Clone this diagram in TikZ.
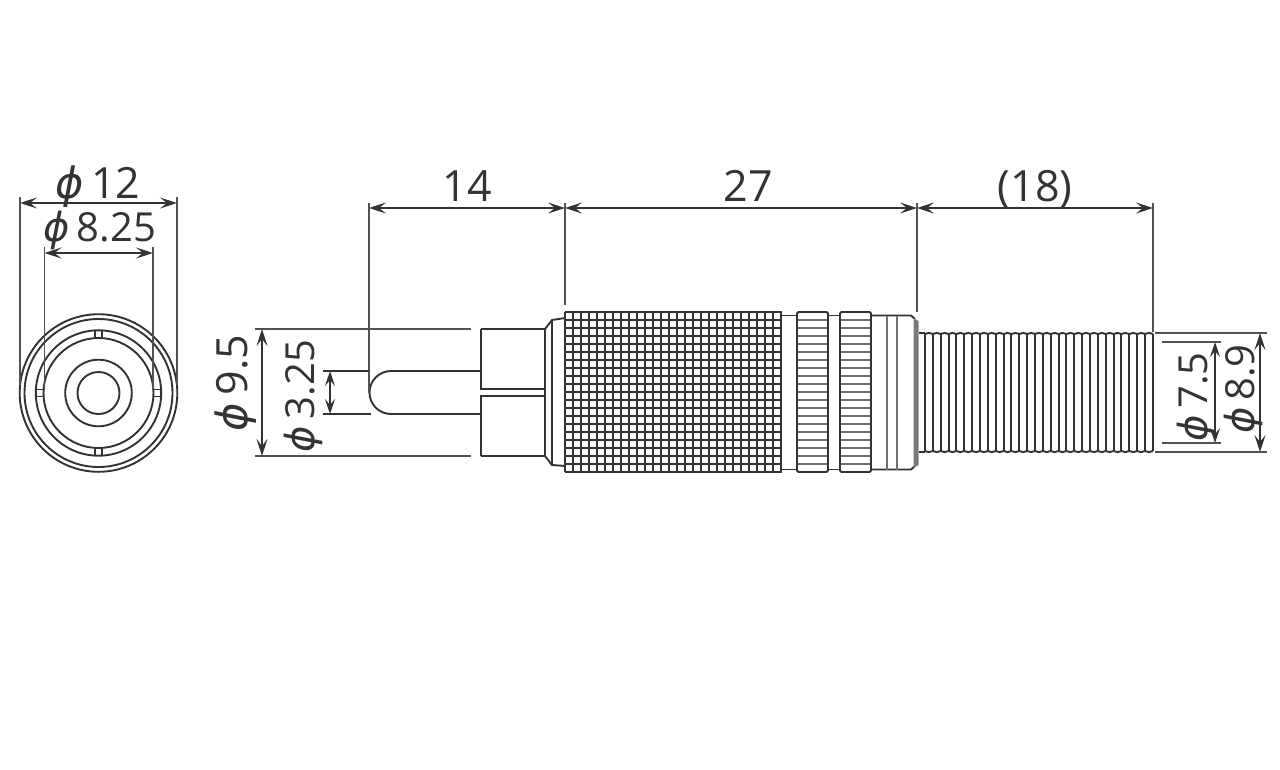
\documentclass[tikz,border=0pt]{standalone}
\usepackage{fontspec}
\usetikzlibrary{arrows.meta}
\setmainfont{Open Sans}
\newfontfamily\phifont{DejaVu Sans}
\newcommand{\phisym}{{\phifont\itshape\symbol{"03D5}}}
\definecolor{ink}{gray}{0.2}
\tikzset{
  part/.style={draw=ink,line width=1.9pt},
  knurl/.style={draw=ink,line width=2.6pt},
  thinpart/.style={draw=ink,line width=1.5pt},
  extline/.style={draw=ink!85,line width=1.9pt},
  dimline/.style={draw=ink,line width=1.8pt,{Stealth[length=17pt,width=11pt,inset=7pt]}-{Stealth[length=17pt,width=11pt,inset=7pt]}},
  smalldim/.style={draw=ink,line width=1.8pt,{Stealth[length=15pt,width=10pt,inset=6pt]}-{Stealth[length=15pt,width=10pt,inset=6pt]}},
  dimtext/.style={text=ink,font=\fontsize{43}{43}\selectfont,inner sep=0pt,text height=30pt,text depth=0pt},
  smalltext/.style={text=ink,font=\fontsize{40}{40}\selectfont,inner sep=0pt,text height=28pt,text depth=0pt},
}
\begin{document}
\begin{tikzpicture}[x=1pt,y=-1pt]
\useasboundingbox (0,0) rectangle (1280,769);
% ---------- front view
\coordinate (fc) at (98.5,393);
\foreach \r in {78.8,74,62.7,55,33.3,21}{\draw[part] (fc) circle[radius=\r];}
\foreach \a in {0,90,180,270}{
  \begin{scope}[shift={(fc)},rotate=\a]
    \draw[thinpart] (55,-3.5) -- (62.7,-3.5) (55,3.5) -- (62.7,3.5);
  \end{scope}}
% front dimensions
\coordinate (a1) at (20,203); \coordinate (a2) at (177,203);
\coordinate (a1e) at (20,197); \coordinate (a1f) at (20,385);
\coordinate (a2e) at (177,197); \coordinate (a2f) at (177,385);
\draw[extline] (a1e) -- (a1f); \draw[extline] (a2e) -- (a2f);
\draw[dimline] (a1) -- (a2);
\coordinate (b1) at (44.5,253); \coordinate (b2) at (153,253);
\coordinate (b1e) at (44.5,247); \coordinate (b1f) at (44.5,390);
\coordinate (b2e) at (153,247); \coordinate (b2f) at (153,390);
\draw[extline] (b1e) -- (b1f); \draw[extline] (b2e) -- (b2f);
\draw[dimline] (b1) -- (b2);
\node[dimtext] (t12) at (98,183) {\phisym\,12};
\node[smalltext] (t825) at (100,227) {\phisym\,8.25};
% ---------- pin and sleeve
\draw[part] (481,329) -- (481,389) -- (545,389);
\draw[part] (481,456) -- (481,396) -- (545,396);
\draw[part] (481,329) -- (545,329) -- (552,320) -- (565,318);
\draw[part] (481,456) -- (545,456) -- (552,465) -- (565,466);
\draw[part] (545,329) -- (545,456);
\draw[part] (552,320) -- (552,465);
\draw[part] (481,371) -- (391,371) arc[start angle=-90,end angle=-270,radius=21.5] -- (481,414);
% ---------- knurled grip
\foreach \k in {0,...,27}{\draw[knurl] ({565+\k*8},312) -- ({565+\k*8},472);}
\foreach \k in {0,...,20}{\draw[knurl] (565,{312+\k*8}) -- (782,{312+\k*8});}
\draw[part] (782,315.5) -- (797,315.5) (782,469.5) -- (797,469.5);
\draw[part] (828,315.5) -- (840,315.5) (828,469.5) -- (840,469.5);
% ---------- ribbed bands
\foreach \xa/\xb in {797/828,840/871}{
  \foreach \k in {1,...,19}{\draw[draw=ink!70,line width=2.6pt] (\xa,{312+\k*8}) -- (\xb,{312+\k*8});}
  \draw[part,rounded corners=1.5pt] (\xa,312) rectangle (\xb,472);
}
% ---------- rear collar
\draw[part] (871,315.5) -- (911,315.5) -- (915,319);
\draw[part] (871,469.5) -- (911,469.5) -- (915,466);
\draw[draw=ink!70,line width=2.6pt] (887,315.5) -- (887,469.5) (897,315.5) -- (897,469.5);
\fill[ink!65] (913.5,318) -- (918.5,321) -- (918.5,465) -- (913.5,468) -- cycle;
% ---------- threaded tail
\draw[part] (918.5,333) -- (925,333);
\draw[part] (918.5,452) -- (925,452);
\foreach \k in {0,...,29}{\draw[part] ({925+\k*7.857},334) -- ({925+\k*7.857},451);}
\foreach \k in {0,...,28}{
  \draw[part] ({925+\k*7.857},334) .. controls ({927+\k*7.857},332.5) and ({930.8+\k*7.857},332.5) .. ({932.857+\k*7.857},334);
  \draw[part] ({925+\k*7.857},451) .. controls ({927+\k*7.857},452.5) and ({930.8+\k*7.857},452.5) .. ({932.857+\k*7.857},451);
}
% ---------- length dimensions
\coordinate (x0t) at (369,203); \coordinate (x0b) at (369,393);
\coordinate (x1t) at (565,203); \coordinate (x1b) at (565,305);
\coordinate (x2t) at (917,203); \coordinate (x2b) at (917,312);
\coordinate (x3t) at (1153,203); \coordinate (x3b) at (1153,332);
\draw[extline] (x0t) -- (x0b);
\draw[extline] (x1t) -- (x1b);
\draw[extline] (x2t) -- (x2b);
\draw[extline] (x3t) -- (x3b);
\coordinate (d0) at (369,208); \coordinate (d1) at (565,208);
\coordinate (d2) at (917,208); \coordinate (d3) at (1153,208);
\draw[dimline] (d0) -- (d1);
\draw[dimline] (d1) -- (d2);
\draw[dimline] (d2) -- (d3);
\node[dimtext] (t14) at (467,186) {14};
\node[dimtext] (t27) at (748,186) {27};
\node[dimtext] (t18) at (1035,186) {(18)};
% ---------- left diameter dimensions
\coordinate (p1) at (255,329); \coordinate (p2) at (471,329);
\coordinate (p3) at (255,456); \coordinate (p4) at (471,456);
\draw[extline] (p1) -- (p2); \draw[extline] (p3) -- (p4);
\coordinate (p5) at (262,329); \coordinate (p6) at (262,456);
\draw[dimline] (p5) -- (p6);
\coordinate (q1) at (323,371); \coordinate (q2) at (369,371);
\coordinate (q3) at (323,414); \coordinate (q4) at (371,414);
\draw[thinpart] (q1) -- (q2); \draw[thinpart] (q3) -- (q4);
\coordinate (q5) at (330,371); \coordinate (q6) at (330,414);
\draw[smalldim] (q5) -- (q6);
\node[dimtext,rotate=90] (t95) at (232,383) {\phisym\,9.5};
\node[smalltext,rotate=90] (t325) at (300,396) {\phisym\,3.25};
% ---------- right diameter dimensions
\coordinate (r1) at (1155,333); \coordinate (r2) at (1267,333);
\coordinate (r3) at (1155,452); \coordinate (r4) at (1267,452);
\draw[extline] (r1) -- (r2); \draw[extline] (r3) -- (r4);
\coordinate (r5) at (1260,333); \coordinate (r6) at (1260,452);
\draw[dimline] (r5) -- (r6);
\coordinate (s1) at (1162,342); \coordinate (s2) at (1221,342);
\coordinate (s3) at (1162,443); \coordinate (s4) at (1221,443);
\draw[extline] (s1) -- (s2); \draw[extline] (s3) -- (s4);
\coordinate (s5) at (1215,342); \coordinate (s6) at (1215,443);
\draw[smalldim] (s5) -- (s6);
\node[smalltext,rotate=90] (t75) at (1193,397) {\phisym\,7.5};
\node[smalltext,rotate=90] (t89) at (1240,389) {\phisym\,8.9};
\end{tikzpicture}
\end{document}
